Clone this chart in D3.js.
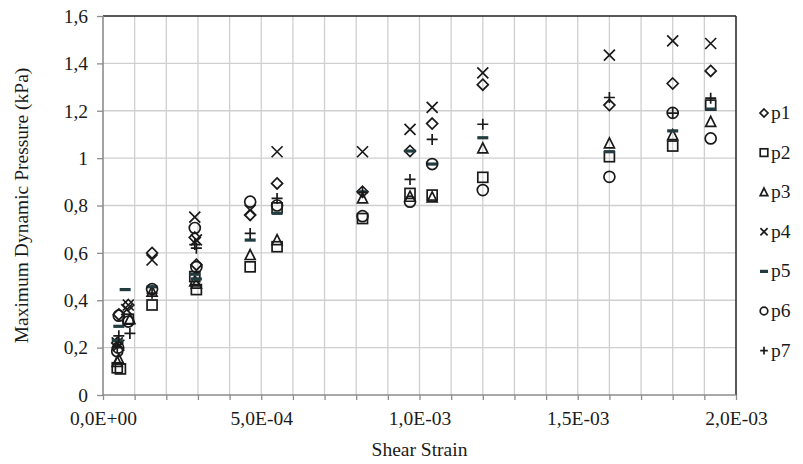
<!DOCTYPE html>
<html><head><meta charset="utf-8">
<script src="https://cdn.jsdelivr.net/npm/d3@7"></script>
<style>body{margin:0;background:#fff}svg{display:block}text{font-family:"Liberation Serif","DejaVu Serif",serif}</style>
</head><body>
<svg id="c" width="803" height="464"></svg>
<script>
const seriesNames = ["p1","p2","p3","p4","p5","p6","p7"];
const p1 = [[0.45e-4,0.22],[0.5e-4,0.34],[0.8e-4,0.38],[1.55e-4,0.60],[2.9e-4,0.665],[2.95e-4,0.55],[4.65e-4,0.76],[5.5e-4,0.893],[8.2e-4,0.858],[9.7e-4,1.03],[1.04e-3,1.146],[1.2e-3,1.31],[1.6e-3,1.224],[1.8e-3,1.315],[1.92e-3,1.368]];
const p2 = [[0.45e-4,0.115],[0.55e-4,0.11],[0.8e-4,0.32],[1.55e-4,0.38],[2.9e-4,0.50],[2.95e-4,0.445],[4.65e-4,0.541],[5.5e-4,0.79],[5.5e-4,0.626],[8.2e-4,0.745],[9.7e-4,0.851],[1.04e-3,0.844],[1.2e-3,0.919],[1.6e-3,1.006],[1.8e-3,1.051],[1.92e-3,1.224]];
const p3 = [[0.45e-4,0.14],[0.5e-4,0.15],[0.85e-4,0.32],[1.55e-4,0.436],[2.9e-4,0.48],[2.95e-4,0.47],[4.65e-4,0.591],[5.5e-4,0.654],[8.2e-4,0.83],[9.7e-4,0.837],[1.04e-3,0.834],[1.2e-3,1.041],[1.6e-3,1.062],[1.8e-3,1.097],[1.92e-3,1.153]];
const p4 = [[0.45e-4,0.22],[0.5e-4,0.21],[0.8e-4,0.38],[0.75e-4,0.36],[1.55e-4,0.57],[2.9e-4,0.751],[2.95e-4,0.655],[4.65e-4,0.78],[5.5e-4,1.027],[8.2e-4,1.027],[9.7e-4,1.121],[1.04e-3,1.214],[1.2e-3,1.36],[1.6e-3,1.435],[1.8e-3,1.495],[1.92e-3,1.484]];
const p5 = [[0.45e-4,0.23],[0.5e-4,0.29],[0.7e-4,0.445],[1.55e-4,0.457],[2.9e-4,0.51],[2.95e-4,0.49],[4.65e-4,0.654],[5.5e-4,0.767],[8.2e-4,0.858],[9.7e-4,1.03],[1.04e-3,0.975],[1.2e-3,1.086],[1.6e-3,1.027],[1.8e-3,1.115],[1.92e-3,1.207]];
const p6 = [[0.45e-4,0.185],[0.48e-4,0.2],[0.5e-4,0.335],[0.8e-4,0.31],[1.55e-4,0.447],[2.9e-4,0.705],[2.95e-4,0.54],[4.65e-4,0.816],[5.5e-4,0.80],[8.2e-4,0.755],[9.7e-4,0.816],[1.04e-3,0.975],[1.2e-3,0.865],[1.6e-3,0.921],[1.8e-3,1.191],[1.92e-3,1.083]];
const p7 = [[0.5e-4,0.25],[0.45e-4,0.2],[0.85e-4,0.26],[1.55e-4,0.43],[2.9e-4,0.635],[2.95e-4,0.62],[4.65e-4,0.682],[5.5e-4,0.83],[8.2e-4,0.855],[9.7e-4,0.91],[1.04e-3,1.079],[1.2e-3,1.143],[1.6e-3,1.256],[1.8e-3,1.19],[1.92e-3,1.253]];
const xTickLabels = ["0,0E+00","5,0E-04","1,0E-03","1,5E-03","2,0E-03"];
const yTickLabels = ["0","0,2","0,4","0,6","0,8","1","1,2","1,4","1,6"];

const seriesData = [p1,p2,p3,p4,p5,p6,p7];
const shapes = ["diamond","square","triangle","x","dash","circle","plus"];

const svg = d3.select("#c");
const L = 103, R = 736, T = 16, B = 395;
const x = d3.scaleLinear().domain([0, 2e-3]).range([L, R]);
const y = d3.scaleLinear().domain([0, 1.6]).range([B, T]);
const ink = "#1a1a1a";
const fs = 19.5;

// gridlines
const g = svg.append("g");
g.selectAll("line.vg").data(d3.range(1, 20).map(i => i * 1e-4)).enter().append("line")
  .attr("x1", d => x(d)).attr("x2", d => x(d)).attr("y1", T).attr("y2", B)
  .attr("stroke", "#cfcfcf").attr("stroke-width", 1.3);
g.selectAll("line.hg").data(d3.range(1, 8).map(i => i * 0.2)).enter().append("line")
  .attr("x1", L).attr("x2", R).attr("y1", d => y(d)).attr("y2", d => y(d))
  .attr("stroke", "#cfcfcf").attr("stroke-width", 1.3);

// border top/right
svg.append("line").attr("x1", L).attr("x2", R).attr("y1", T).attr("y2", T).attr("stroke", "#222").attr("stroke-width", 1.5);
svg.append("line").attr("x1", R).attr("x2", R).attr("y1", T).attr("y2", B).attr("stroke", "#222").attr("stroke-width", 1.5);

// axes
const xAxis = d3.axisBottom(x).tickValues(d3.range(0, 21).map(i => i * 1e-4)).tickSize(5)
  .tickFormat((d, i) => i % 5 === 0 ? xTickLabels[i / 5] : "");
const gx = svg.append("g").attr("transform", `translate(0,${B})`).call(xAxis);
gx.attr("font-family", null);
gx.select(".domain").attr("stroke", "#8c8c8c").attr("stroke-width", 1.6);
gx.selectAll(".tick line").attr("stroke", "#8c8c8c").attr("stroke-width", 1.3);
gx.selectAll(".tick text").attr("font-size", fs).attr("fill", ink).attr("dy", "1.13em");

const yAxis = d3.axisLeft(y).tickValues(d3.range(0, 9).map(i => i * 0.2)).tickSize(6)
  .tickFormat((d, i) => yTickLabels[i]);
const gy = svg.append("g").attr("transform", `translate(${L},0)`).call(yAxis);
gy.attr("font-family", null);
gy.select(".domain").attr("stroke", "#8c8c8c").attr("stroke-width", 1.6);
gy.selectAll(".tick line").attr("stroke", "#8c8c8c").attr("stroke-width", 1.3);
gy.selectAll(".tick text").attr("font-size", fs).attr("fill", ink).attr("x", -15);
gx.selectAll("path.domain").attr("d", `M${L},0H${R}`);
gy.selectAll("path.domain").attr("d", `M0,${B}V${T}`);

// symbol drawing
function drawSymbol(sel, shape, s) {
  const sw = 1.7;
  if (shape === "diamond") {
    sel.append("path").attr("d", `M0,${-s}L${s},0L0,${s}L${-s},0Z`).attr("fill", "none").attr("stroke", ink).attr("stroke-width", sw);
  } else if (shape === "square") {
    sel.append("rect").attr("x", -s).attr("y", -s).attr("width", 2 * s).attr("height", 2 * s).attr("fill", "none").attr("stroke", ink).attr("stroke-width", sw);
  } else if (shape === "triangle") {
    sel.append("path").attr("d", `M0,${-s * 1.1}L${s},${s * 0.9}L${-s},${s * 0.9}Z`).attr("fill", "none").attr("stroke", ink).attr("stroke-width", sw);
  } else if (shape === "x") {
    sel.append("path").attr("d", `M${-s},${-s}L${s},${s}M${s},${-s}L${-s},${s}`).attr("stroke", ink).attr("stroke-width", sw);
  } else if (shape === "dash") {
    sel.append("rect").attr("x", -s).attr("y", -1.6).attr("width", 2 * s).attr("height", 3.2).attr("fill", "#223c40");
  } else if (shape === "circle") {
    sel.append("circle").attr("r", s).attr("fill", "none").attr("stroke", ink).attr("stroke-width", sw);
  } else if (shape === "plus") {
    sel.append("path").attr("d", `M${-s},0L${s},0M0,${-s}L0,${s}`).attr("stroke", ink).attr("stroke-width", sw);
  }
}
const plotSizes = {diamond: 5.5, square: 5, triangle: 5, x: 5.5, dash: 5.5, circle: 5.5, plus: 5.5};
const legSizes = {diamond: 4, square: 3.8, triangle: 3.8, x: 3.6, dash: 4, circle: 3.8, plus: 3.8};

seriesData.forEach((data, si) => {
  const gs = svg.append("g").attr("class", "series-" + seriesNames[si]);
  gs.selectAll("g").data(data).enter().append("g")
    .attr("transform", d => `translate(${x(d[0])},${y(d[1])})`)
    .each(function () { drawSymbol(d3.select(this), shapes[si], plotSizes[shapes[si]]); });
});

// legend
const leg = svg.append("g");
seriesNames.forEach((n, i) => {
  const ly = 113 + i * 39.6;
  const m = leg.append("g").attr("transform", `translate(764,${ly})`);
  drawSymbol(m, shapes[i], legSizes[shapes[i]]);
  leg.append("text").attr("x", 771).attr("y", ly + 6).attr("font-size", fs).attr("fill", ink).text(n);
});

// titles
svg.append("text").attr("x", (L + R) / 2).attr("y", 456).attr("text-anchor", "middle")
  .attr("font-size", fs).attr("fill", ink).text("Shear Strain");
svg.append("text").attr("transform", `translate(28,${(T + B) / 2}) rotate(-90)`).attr("text-anchor", "middle")
  .attr("font-size", fs).attr("fill", ink).text("Maximum Dynamic Pressure (kPa)");
</script>
</body></html>
